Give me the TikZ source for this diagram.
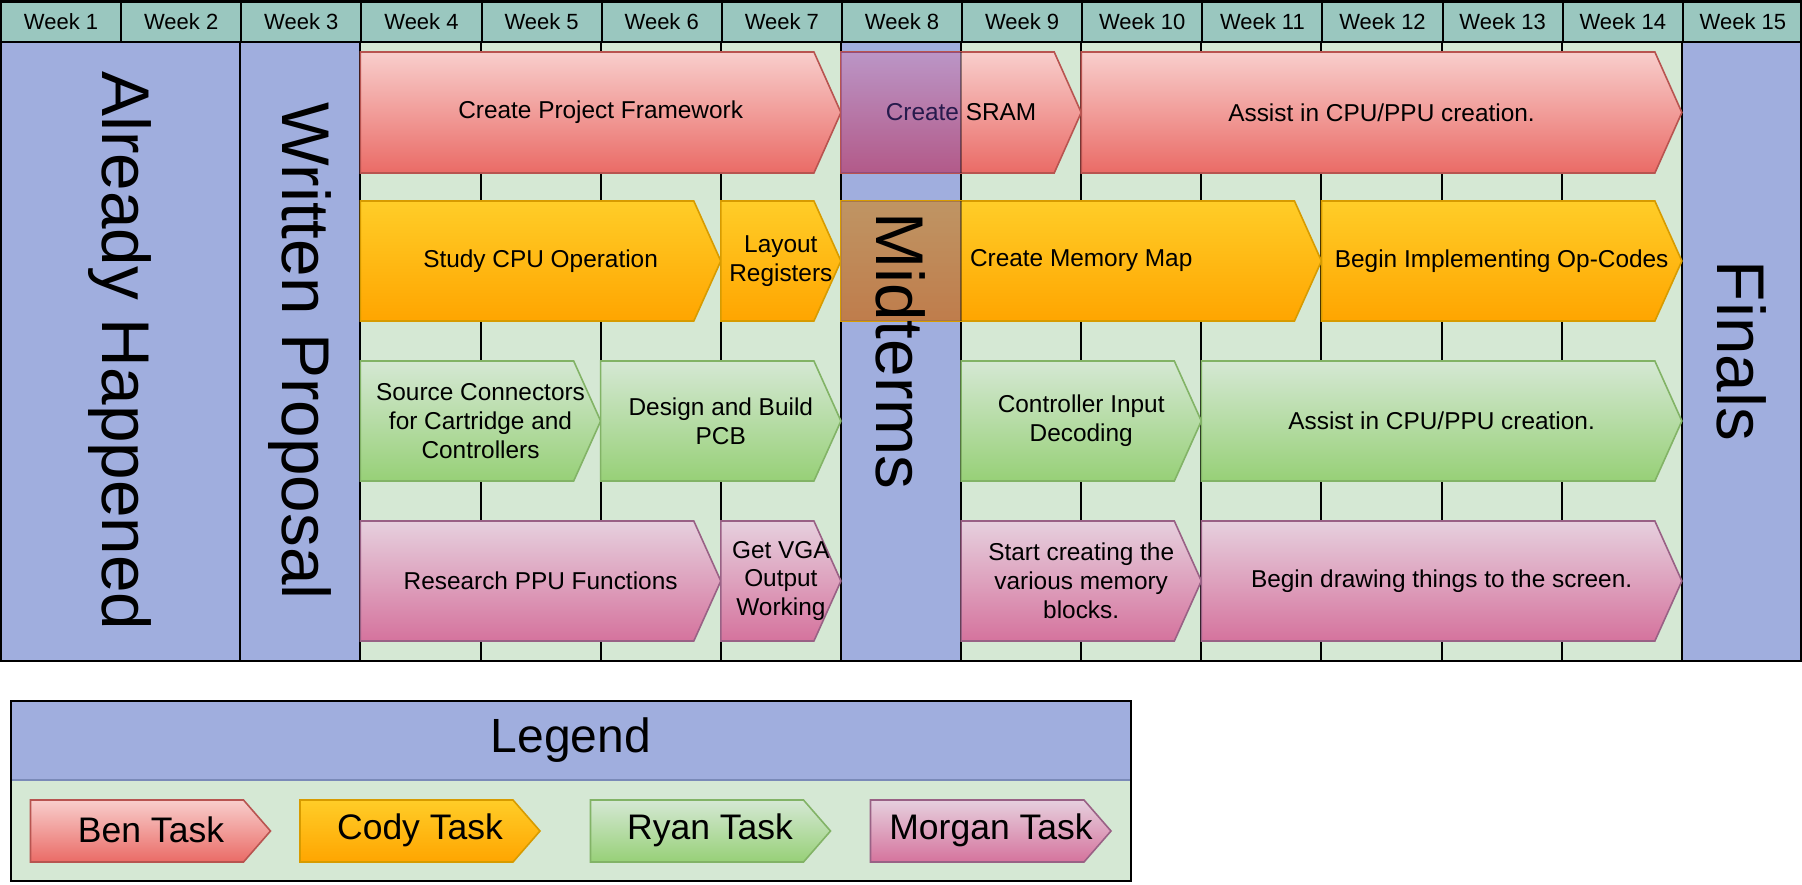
\documentclass[tikz,border=0pt]{standalone}
\usepackage{fontspec}
\setmainfont{Liberation Sans}
\definecolor{hdr}{RGB}{154,199,191}
\definecolor{bgg}{RGB}{213,232,212}
\definecolor{colblue}{RGB}{160,174,222}
\definecolor{ovl}{RGB}{96,65,190}
\definecolor{benT}{HTML}{F8CECC}
\definecolor{benB}{HTML}{EA6B66}
\definecolor{benS}{HTML}{B85450}
\definecolor{codyT}{HTML}{FFCD28}
\definecolor{codyB}{HTML}{FFA500}
\definecolor{codyS}{HTML}{D79B00}
\definecolor{ryanT}{HTML}{D5E8D4}
\definecolor{ryanB}{HTML}{97D077}
\definecolor{ryanS}{HTML}{82B366}
\definecolor{morT}{HTML}{E6D0DE}
\definecolor{morB}{HTML}{D5739D}
\definecolor{morS}{HTML}{996185}
\definecolor{legline}{RGB}{122,138,184}
\newcommand\taskarr[7]{%
  \path[#6] (#2,#4) -- ({#3-27},#4) -- (#3,{(#4+#5)/2}) -- ({#3-27},#5) -- (#2,#5) -- cycle;
  \node[tasktext] (#1) at ({(#2+#3)/2},{(#4+#5)/2}) {#7};
}
\begin{document}
\begin{tikzpicture}[x=1pt,y=-1pt,
  hdrcell/.style={draw=black, line width=2pt, fill=hdr, inner sep=0pt,
    font=\fontsize{22}{26}\selectfont},
  bluecol/.style={draw=black, line width=2pt, fill=colblue},
  gridline/.style={draw=black, line width=2pt},
  tasktext/.style={align=center, inner sep=0pt, font=\fontsize{24.4}{28.8}\selectfont},
  bigtext/.style={rotate=-90, inner sep=0pt, font=\fontsize{67.5}{74}\selectfont},
  legtext/.style={inner sep=0pt, font=\fontsize{35.5}{42}\selectfont},
  ben/.style={top color=benT, bottom color=benB, draw=benS, line width=1.6pt},
  cody/.style={top color=codyT, bottom color=codyB, draw=codyS, line width=1.6pt},
  ryan/.style={top color=ryanT, bottom color=ryanB, draw=ryanS, line width=1.6pt},
  morgan/.style={top color=morT, bottom color=morB, draw=morS, line width=1.6pt},
]
\def\cw{120.1333}
\useasboundingbox (0,0) rectangle (1802,884);
\fill[white] (0,0) rectangle (1802,884);

% main background
\fill[bgg] (1,41) rectangle (1801,661);
% grid lines in green areas
\foreach \i in {4,5,6,9,10,11,12,13}
  \draw[gridline] ({\i*\cw},41) -- ({\i*\cw},661);
% blue columns
\path[bluecol] (1,41) rectangle ({2*\cw},661);
\path[bluecol] ({2*\cw},41) rectangle ({3*\cw},661);
\path[bluecol] ({7*\cw},41) rectangle ({8*\cw},661);
\path[bluecol] ({14*\cw},41) rectangle (1801,661);

% header
\foreach \i in {1,...,15}
  \node[hdrcell, minimum width=\cw pt, minimum height=40pt, anchor=north west]
    (w\i) at ({(\i-1)*\cw},1) {Week \i};

% row 1 (Ben)
\taskarr{t11}{3*\cw}{7*\cw}{52}{173}{ben}{Create Project Framework}
\taskarr{t12}{7*\cw}{9*\cw}{52}{173}{ben}{Create SRAM}
\taskarr{t13}{9*\cw}{14*\cw}{52}{173}{ben}{Assist in CPU/PPU creation.}
% row 2 (Cody)
\taskarr{t21}{3*\cw}{6*\cw}{201}{321}{cody}{Study CPU Operation}
\taskarr{t22}{6*\cw}{7*\cw}{201}{321}{cody}{Layout\\Registers}
\taskarr{t23}{7*\cw}{11*\cw}{201}{321}{cody}{Create Memory Map}
\taskarr{t24}{11*\cw}{14*\cw}{201}{321}{cody}{Begin Implementing Op-Codes}
% row 3 (Ryan)
\taskarr{t31}{3*\cw}{5*\cw}{361}{481}{ryan}{Source Connectors\\for Cartridge and\\Controllers}
\taskarr{t32}{5*\cw}{7*\cw}{361}{481}{ryan}{Design and Build\\PCB}
\taskarr{t33}{8*\cw}{10*\cw}{361}{481}{ryan}{Controller Input\\Decoding}
\taskarr{t34}{10*\cw}{14*\cw}{361}{481}{ryan}{Assist in CPU/PPU creation.}
% row 4 (Morgan)
\taskarr{t41}{3*\cw}{6*\cw}{521}{641}{morgan}{Research PPU Functions}
\taskarr{t42}{6*\cw}{7*\cw}{521}{641}{morgan}{Get VGA\\Output\\Working}
\taskarr{t43}{8*\cw}{10*\cw}{521}{641}{morgan}{Start creating the\\various memory\\blocks.}
\taskarr{t44}{10*\cw}{14*\cw}{521}{641}{morgan}{Begin drawing things to the screen.}

% midterm overlay on the arrows
\fill[ovl, fill opacity=0.4] ({7*\cw},52) rectangle ({8*\cw},173);
\fill[ovl, fill opacity=0.4] ({7*\cw},201) rectangle ({8*\cw},321);
\draw[black, opacity=0.4, line width=1.5pt] ({8*\cw},52) -- ({8*\cw},173);
\draw[black, opacity=0.4, line width=1.5pt] ({8*\cw},201) -- ({8*\cw},321);

% big labels
\node[bigtext] (ah) at ({\cw},351) {Already Happened};
\node[bigtext] (wp) at ({2.5*\cw},351) {Written Proposal};
\node[bigtext] (mt) at ({7.5*\cw},351) {Midterms};
\node[bigtext] (fn) at ({14.5*\cw},351) {Finals};

% frame
\draw[black, line width=2pt] (1,1) rectangle (1801,661);

% legend
\draw[black, line width=2pt, fill=bgg] (11,701) rectangle (1131,881);
\fill[colblue] (12,702) rectangle (1130,780);
\draw[legline, line width=1.5pt] (12,780) -- (1130,780);
\node[inner sep=0pt, font=\fontsize{48}{54}\selectfont] (leg) at (571,740) {Legend};
\draw[black, line width=2pt] (11,701) rectangle (1131,881);
\taskarr{lb}{30.5}{270.5}{800}{862}{ben}{}
\taskarr{lc}{300}{540}{800}{862}{cody}{}
\taskarr{lr}{590.5}{830.5}{800}{862}{ryan}{}
\taskarr{lm}{870.5}{1111}{800}{862}{morgan}{}
\node[legtext] (lbt) at (151,830) {Ben Task};
\node[legtext] (lct) at (420,830) {Cody Task};
\node[legtext] (lrt) at (710,830) {Ryan Task};
\node[legtext] (lmt) at (991,830) {Morgan Task};
\end{tikzpicture}
\end{document}
